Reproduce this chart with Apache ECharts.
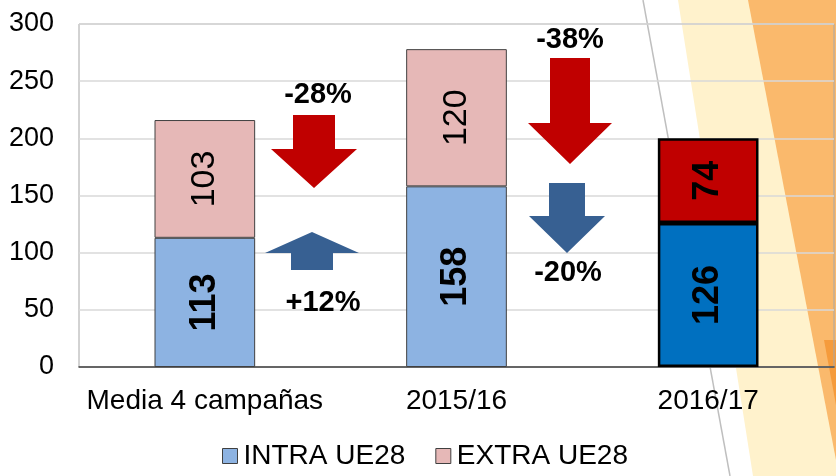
<!DOCTYPE html>
<html>
<head>
<meta charset="utf-8">
<script src="https://cdn.jsdelivr.net/npm/echarts@6/dist/echarts.min.js"></script>
<style>
  html, body { margin: 0; padding: 0; background: #fff; }
  #chart { width: 836px; height: 476px; }
</style>
</head>
<body>
<div id="chart"></div>
<script>
// datos
const categories = ["Media 4 campañas", "2015/16", "2016/17"];
const intra = [113, 158, 126];
const extra = [103, 120, 74];
const yTicks = [0, 50, 100, 150, 200, 250, 300];

// variaciones (texto de las flechas)
const changes = [
  { text: "-28%", color: "#C00000", dir: "down", cx: 314, top: 115, head: 149, tip: 188, hw: 43, sw: 21, tx: 318, ty: 95 },
  { text: "+12%", color: "#376092", dir: "up", cx: 312, top: 232, head: 253, tip: 270, hw: 47, sw: 21, tx: 323, ty: 303 },
  { text: "-38%", color: "#C00000", dir: "down", cx: 570, top: 58, head: 123, tip: 164, hw: 42, sw: 20, tx: 570, ty: 40 },
  { text: "-20%", color: "#376092", dir: "down", cx: 567, top: 183, head: 216, tip: 253, hw: 38, sw: 18, tx: 568, ty: 273 }
];

const font = "'Liberation Sans', Arial, sans-serif";

function arrow(c) {
  let pts;
  if (c.dir === "down") {
    pts = [[c.cx - c.sw, c.top], [c.cx + c.sw, c.top], [c.cx + c.sw, c.head], [c.cx + c.hw, c.head],
           [c.cx, c.tip], [c.cx - c.hw, c.head], [c.cx - c.sw, c.head]];
  } else {
    pts = [[c.cx, c.top], [c.cx + c.hw, c.head], [c.cx + c.sw, c.head], [c.cx + c.sw, c.tip],
           [c.cx - c.sw, c.tip], [c.cx - c.sw, c.head], [c.cx - c.hw, c.head]];
  }
  return { type: "polygon", z: 10, shape: { points: pts }, style: { fill: c.color } };
}

const graphics = [
  // fondo decorativo
  { type: "polygon", z: -10, silent: true,
    shape: { points: [[678, 0], [836, 0], [836, 476], [753, 476]] },
    style: { fill: "#FFF2CC" } },
  { type: "polygon", z: -9, silent: true,
    shape: { points: [[748, 0], [836, 0], [836, 460]] },
    style: { fill: "#FAB96C" } },
  { type: "polygon", z: -8, silent: true,
    shape: { points: [[824, 340], [836, 340], [836, 405]] },
    style: { fill: "#F59B3C" } },
  { type: "line", z: -7, silent: true,
    shape: { x1: 643, y1: 0, x2: 730, y2: 476 },
    style: { stroke: "#BFBFBF", lineWidth: 1.5 } }
];
changes.forEach(c => {
  graphics.push(arrow(c));
  graphics.push({
    type: "text", z: 11, x: c.tx, y: c.ty,
    style: { text: c.text, font: "bold 29px " + font, fill: "#000", align: "center", verticalAlign: "middle" }
  });
});

const chart = echarts.init(document.getElementById("chart"));
chart.setOption({
  animation: false,
  textStyle: { fontFamily: font },
  grid: { left: 79, right: 2, top: 24, bottom: 109, show: true, borderColor: "#A6A6A6", borderWidth: 1 },
  legend: {
    bottom: 1,
    left: 217,
    itemWidth: 15,
    itemHeight: 15,
    itemGap: 30,
    icon: "rect",
    textStyle: { fontSize: 28, color: "#000", padding: [0, 0, 0, 1] },
    data: [
      { name: "INTRA UE28", itemStyle: { color: "#8DB3E2", borderColor: "#404040", borderWidth: 1 } },
      { name: "EXTRA UE28", itemStyle: { color: "#E6B8B7", borderColor: "#404040", borderWidth: 1 } }
    ]
  },
  xAxis: {
    type: "category",
    data: categories,
    axisTick: { show: false },
    axisLine: { lineStyle: { color: "#404040", width: 1.5 } },
    axisLabel: { fontSize: 28, color: "#000", margin: 20, interval: 0 }
  },
  yAxis: {
    type: "value",
    min: yTicks[0],
    max: yTicks[yTicks.length - 1],
    interval: 50,
    axisLine: { show: false },
    axisTick: { show: false },
    splitLine: { lineStyle: { color: "#D9D9D9", width: 1.5 } },
    axisLabel: { fontSize: 27, color: "#000", margin: 25 }
  },
  series: [
    {
      name: "INTRA UE28",
      type: "bar",
      stack: "total",
      barWidth: "40%",
      itemStyle: { color: "#8DB3E2", borderColor: "#404040", borderWidth: 1 },
      label: { show: true, position: "inside", rotate: 90, fontSize: 36, fontWeight: "bold", color: "#000" },
      data: intra.map((v, i) => i === 2
        ? { value: v, itemStyle: { color: "#0070C0", borderColor: "#000", borderWidth: 2.5 } }
        : v)
    },
    {
      name: "EXTRA UE28",
      type: "bar",
      stack: "total",
      barWidth: "40%",
      itemStyle: { color: "#E6B8B7", borderColor: "#404040", borderWidth: 1 },
      label: { show: true, position: "inside", rotate: 90, fontSize: 34, color: "#000" },
      data: extra.map((v, i) => i === 2
        ? { value: v, itemStyle: { color: "#C00000", borderColor: "#000", borderWidth: 2.5 },
            label: { fontWeight: "bold", fontSize: 36 } }
        : v)
    }
  ],
  graphic: graphics
});
window.addEventListener("resize", () => chart.resize());
</script>
</body>
</html>
